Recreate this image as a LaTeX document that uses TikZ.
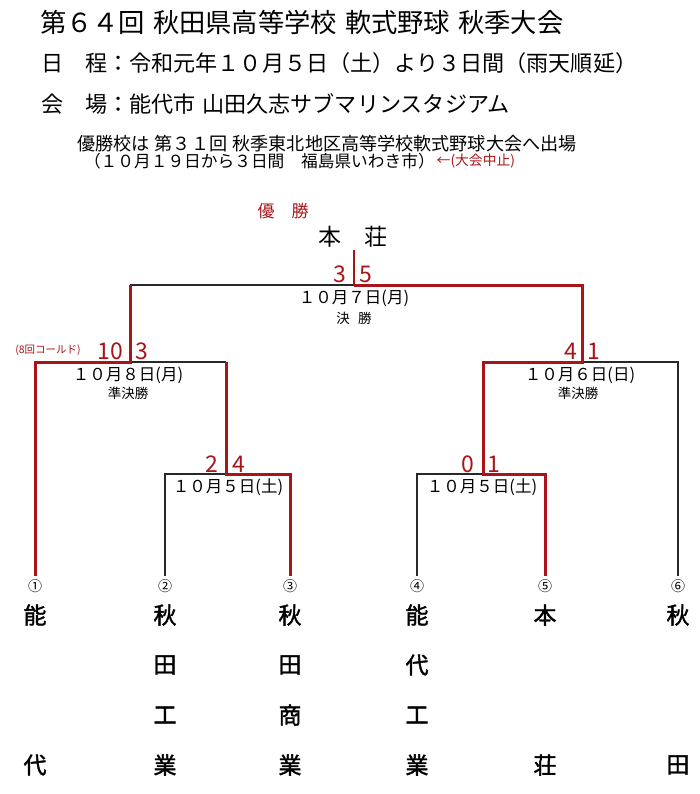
\documentclass[tikz,border=0pt]{standalone}
\usepackage{fontspec}
\setmainfont{Noto Sans CJK JP}
\definecolor{rd}{RGB}{170,20,25}
\definecolor{ln}{RGB}{40,40,40}
\tikzset{
  txt/.style={inner sep=0pt, outer sep=0pt},
  blk/.style={draw=ln, line width=1.1pt},
  win/.style={draw=rd, line width=3pt, line join=miter},
  score/.style={txt, text=rd, font=\fontsize{23}{23}\selectfont},
  datel/.style={txt, font=\fontsize{16.5}{17}\selectfont},
  roundl/.style={txt, font=\fontsize{13.5}{14}\selectfont},
  team/.style={txt, font=\fontsize{23}{23}\selectfont\addfontfeature{FakeBold=1.6}},
  num/.style={txt, font=\fontsize{14}{14}\selectfont},
}
\begin{document}
\begin{tikzpicture}[x=1pt,y=-1pt]
\useasboundingbox (0,0) rectangle (700,794);
% header
\node[txt,anchor=west] (title) at (40,22) {\fontsize{26.3}{30}\selectfont 第６４回\hspace{0.3em}秋田県高等学校\hspace{0.3em}軟式野球\hspace{0.3em}秋季大会};
\node[txt,anchor=west] (sched) at (41,63) {\fontsize{22.1}{26}\selectfont 日　程：令和元年１０月５日（土）より３日間（雨天順延）};
\node[txt,anchor=west] (venue) at (41,104) {\fontsize{22.1}{26}\selectfont 会　場：能代市\hspace{0.3em}山田久志サブマリンスタジアム};
\node[txt,anchor=west] (note1) at (77,144) {\fontsize{18.1}{20}\selectfont 優勝校は\hspace{0.3em}第３１回\hspace{0.3em}秋季東北地区高等学校軟式野球大会へ出場};
\node[txt,anchor=west] (note2) at (84,161) {\fontsize{16.7}{18}\selectfont （１０月１９日から３日間　福島県いわき市）};
\node[txt,anchor=west,text=rd] (note3) at ([xshift=2pt]note2.east) {\fontsize{13.8}{15}\selectfont ←(大会中止)};
% champion
\node[txt,text=rd] (champl) at (283,211) {\fontsize{17}{18}\selectfont 優　勝};
\node[txt] (champ) at (353,237) {\fontsize{23}{24}\selectfont 本　荘};
% junction coordinates
\coordinate (w) at (354,250);
\coordinate (f) at (354,285);
\coordinate (fl) at (130,285);
\coordinate (fr) at (582,285);
\coordinate (sl) at (130,362);
\coordinate (sll) at (35,362);
\coordinate (slr) at (226,362);
\coordinate (sr) at (582,362);
\coordinate (srl) at (483,362);
\coordinate (srr) at (678,362);
\coordinate (ql) at (226,474);
\coordinate (qll) at (165,474);
\coordinate (qlr) at (290,474);
\coordinate (qr) at (483,474);
\coordinate (qrl) at (417,474);
\coordinate (qrr) at (545,474);
% team numbers
\foreach \i/\x/\c in {1/35/①,2/165/②,3/290/③,4/417/④,5/545/⑤,6/678/⑥}{
  \node[num] (n\i) at (\x,586) {\c};
  \coordinate (b\i) at (\x,576);
}
% black lines
\draw[blk] (f) -- (fl);
\draw[blk] (sl) -- (slr);
\draw[blk] (sr) -- (srr) -- (b6);
\draw[blk] (ql) -- (qll) -- (b2);
\draw[blk] (qr) -- (qrl) -- (b4);
% winner lines
\draw[win, line width=2.2pt] (w) -- (f);
\draw[win] (f) -- (fr) -- (sr) -- (srl) -- (qr) -- (qrr) -- (b5);
\draw[win] (fl) -- (sl) -- (sll) -- (b1);
\draw[win] (slr) -- (ql) -- (qlr) -- (b3);
% scores
\node[score] (s1) at (340,274) {3};
\node[score] (s2) at (366,274) {5};
\node[score] (s3) at (110,351) {10};
\node[score] (s4) at (142,351) {3};
\node[score] (s5) at (571,351) {4};
\node[score] (s6) at (594,351) {1};
\node[score] (s7) at (212,464) {2};
\node[score] (s8) at (239,464) {4};
\node[score] (s9) at (468,464) {0};
\node[score] (s10) at (494,464) {1};
\node[txt,text=rd] (cold) at (48,350) {\fontsize{10.5}{11}\selectfont (8回コールド)};
% dates
\node[datel] (d1) at (354,298) {１０月７日(月)};
\node[roundl] (r1) at (354,318) {決\hspace{0.6em}勝};
\node[datel] (d2) at (128,375) {１０月８日(月)};
\node[roundl] (r2) at (128,393) {準決勝};
\node[datel] (d3) at (580,375) {１０月６日(日)};
\node[roundl] (r3) at (578,393) {準決勝};
\node[datel] (d4) at (228,487) {１０月５日(土)};
\node[datel] (d5) at (482,487) {１０月５日(土)};
% team names
\node[team] (t1a) at (35,615) {能};
\node[team] (t1d) at (35,765) {代};
\node[team] (t2a) at (165,615) {秋};
\node[team] (t2b) at (165,665) {田};
\node[team] (t2c) at (165,715) {工};
\node[team] (t2d) at (165,765) {業};
\node[team] (t3a) at (290,615) {秋};
\node[team] (t3b) at (290,665) {田};
\node[team] (t3c) at (290,715) {商};
\node[team] (t3d) at (290,765) {業};
\node[team] (t4a) at (417,615) {能};
\node[team] (t4b) at (417,665) {代};
\node[team] (t4c) at (417,715) {工};
\node[team] (t4d) at (417,765) {業};
\node[team] (t5a) at (545,615) {本};
\node[team] (t5d) at (545,765) {荘};
\node[team] (t6a) at (678,615) {秋};
\node[team] (t6d) at (678,765) {田};
\end{tikzpicture}
\end{document}
